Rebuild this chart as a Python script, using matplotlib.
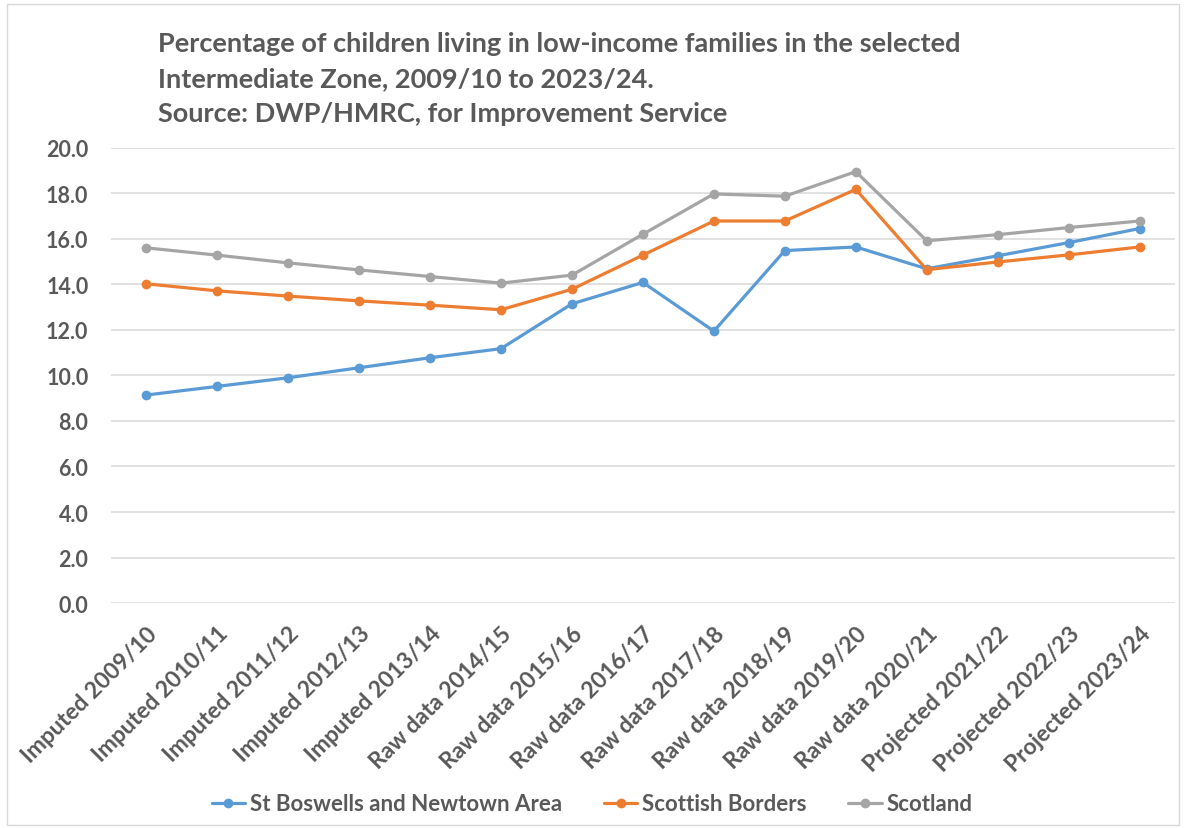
import matplotlib.pyplot as plt
from matplotlib.patches import Rectangle

# categories along the x axis
years = ["Imputed 2009/10", "Imputed 2010/11", "Imputed 2011/12", "Imputed 2012/13",
         "Imputed 2013/14", "Raw data 2014/15", "Raw data 2015/16", "Raw data 2016/17",
         "Raw data 2017/18", "Raw data 2018/19", "Raw data 2019/20", "Raw data 2020/21",
         "Projected 2021/22", "Projected 2022/23", "Projected 2023/24"]

# percentage of children in low-income families
st_boswells = [9.14, 9.52, 9.90, 10.34, 10.78, 11.18, 13.15, 14.09, 11.95,
               15.49, 15.65, 14.69, 15.26, 15.84, 16.46]
borders = [14.03, 13.72, 13.49, 13.28, 13.09, 12.89, 13.79, 15.29, 16.79,
           16.79, 18.18, 14.65, 14.99, 15.30, 15.65]
scotland = [15.61, 15.29, 14.95, 14.64, 14.35, 14.06, 14.41, 16.21, 17.98,
            17.88, 18.96, 15.92, 16.19, 16.50, 16.79]

series_names = ["St Boswells and Newtown Area", "Scottish Borders", "Scotland"]
colors = ["#5B9BD5", "#ED7D31", "#A5A5A5"]
text_col = "#595959"

title_lines = ["Percentage of children living in low-income families in the selected",
               "Intermediate Zone, 2009/10 to 2023/24.",
               "Source: DWP/HMRC, for Improvement Service"]

plt.rcParams['font.family'] = ['Lato', 'DejaVu Sans']

fig = plt.figure(figsize=(11.84, 8.29), dpi=100)
ax = fig.add_axes([0.0935, 0.2714, 0.899, 0.5489])

x = list(range(len(years)))
for vals, name, c in zip([st_boswells, borders, scotland], series_names, colors):
    ax.plot(x, vals, color=c, lw=2.3, marker='o', markersize=6, label=name,
            solid_capstyle='round', solid_joinstyle='round')

ax.set_ylim(0, 20)
ax.set_xlim(-0.5, len(years) - 0.5)
ax.set_yticks(range(0, 21, 2))
ax.set_yticklabels([f"{v:.1f}" for v in range(0, 21, 2)], fontsize=15.5,
                   fontweight='bold', color=text_col)
ax.set_xticks(x)
ax.set_xticklabels(years, rotation=45, ha='right', rotation_mode='anchor',
                   fontsize=16.5, fontweight='bold', color=text_col)
ax.tick_params(axis='both', length=0)
ax.tick_params(axis='y', pad=16)
ax.tick_params(axis='x', pad=14)
ax.grid(axis='y', color='#D9D9D9', lw=1.1)
ax.set_axisbelow(True)
for s in ax.spines.values():
    s.set_visible(False)

# title, one text per line at the reference baselines
for i, line in enumerate(title_lines):
    fig.text(158 / 1184, 1 - (52 + 35 * i) / 829, line, fontsize=19.5,
             fontweight='bold', color=text_col, va='baseline', ha='left')

fig.legend(loc='center', bbox_to_anchor=(0.5, 0.029), ncol=3, frameon=False,
           labelcolor=text_col, handlelength=1.5, handletextpad=0.2,
           columnspacing=1.9, prop={'weight': 'bold', 'size': 16})

fig.patches.append(Rectangle((0.006, 0.004), 0.99, 0.99, transform=fig.transFigure,
                             fill=False, edgecolor='#D9D9D9', lw=1))

fig.savefig("out.png", dpi=100)
